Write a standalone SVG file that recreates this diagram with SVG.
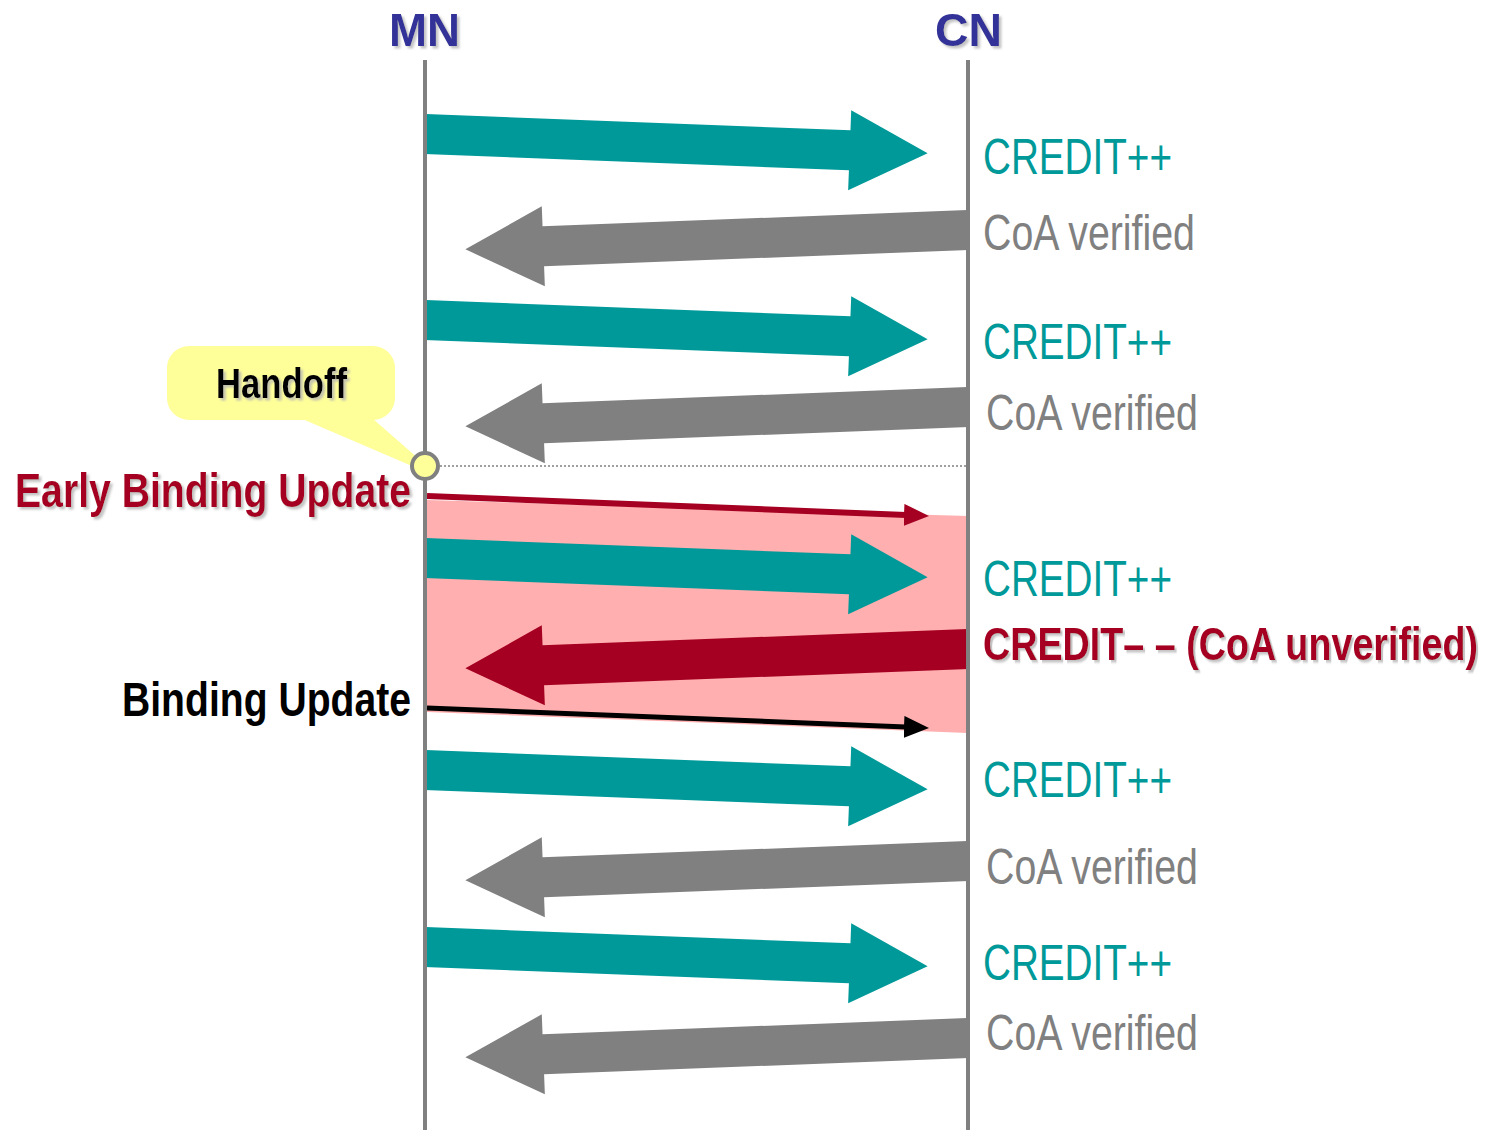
<svg xmlns="http://www.w3.org/2000/svg" width="1495" height="1130" viewBox="0 0 1495 1130">
<style>
.life{stroke:#808080;stroke-width:4;fill:none}
.hdr{font-family:"Liberation Sans",Arial,sans-serif;font-weight:bold;font-size:47px;fill:#333399}
.cr{font-family:"Liberation Sans",Arial,sans-serif;font-size:50px;fill:#009999}
.coa{font-family:"Liberation Sans",Arial,sans-serif;font-size:50px;fill:#808080}
.bold{font-family:"Liberation Sans",Arial,sans-serif;font-weight:bold;font-size:48px}
.teal{fill:#009999}
.grey{fill:#808080}
.red{fill:#A50021}
</style>
<defs>
<polygon id="fat" points="0,-20 425,-20 425,-40 503,0 425,40 425,20 0,20"/>
<filter id="sh" x="-5%" y="-20%" width="110%" height="150%">
<feDropShadow dx="2.5" dy="2.5" stdDeviation="0.8" flood-color="#b4b4b4" flood-opacity="0.8"/>
</filter>
<marker id="hr" viewBox="0 0 25 22" refX="2" refY="11" markerWidth="25" markerHeight="22" markerUnits="userSpaceOnUse" orient="auto">
<path d="M0,0 L25,11 L0,22 z" fill="#A50021"/>
</marker>
<marker id="hb" viewBox="0 0 25 22" refX="2" refY="11" markerWidth="25" markerHeight="22" markerUnits="userSpaceOnUse" orient="auto">
<path d="M0,0 L25,11 L0,22 z" fill="#000000"/>
</marker>
</defs>
<rect width="1495" height="1130" fill="#ffffff"/>
<g id="unverified-zone">
<polygon points="427,500 968,516 968,733 427,712" fill="#FFAFAF"/>
</g>
<g id="connectors">
<use href="#fat" class="teal" transform="translate(425,134) rotate(2.2)"/>
<use href="#fat" class="grey" transform="translate(968,230) rotate(177.8)"/>
<use href="#fat" class="teal" transform="translate(425,320) rotate(2.2)"/>
<use href="#fat" class="grey" transform="translate(968,407) rotate(177.8)"/>
<line x1="427" y1="496" x2="906" y2="515" stroke="#A50021" stroke-width="6" marker-end="url(#hr)"/>
<use href="#fat" class="teal" transform="translate(425,558) rotate(2.2)"/>
<use href="#fat" class="red" transform="translate(968,649) rotate(177.8)"/>
<line x1="427" y1="708" x2="906" y2="727" stroke="#000000" stroke-width="5" marker-end="url(#hb)"/>
<use href="#fat" class="teal" transform="translate(425,770) rotate(2.2)"/>
<use href="#fat" class="grey" transform="translate(968,861) rotate(177.8)"/>
<use href="#fat" class="teal" transform="translate(425,947) rotate(2.2)"/>
<use href="#fat" class="grey" transform="translate(968,1038) rotate(177.8)"/>
<line x1="440" y1="466" x2="966" y2="466" stroke="#808080" stroke-width="1.5" stroke-dasharray="2,2"/>
</g>
<g id="MN">
<line class="life" x1="425" y1="60" x2="425" y2="1130"/>
<text class="hdr" x="389" y="46" textLength="71" lengthAdjust="spacingAndGlyphs" filter="url(#sh)">MN</text>
</g>
<g id="CN">
<line class="life" x1="968" y1="60" x2="968" y2="1130"/>
<text class="hdr" x="935" y="46" textLength="67" lengthAdjust="spacingAndGlyphs" filter="url(#sh)">CN</text>
</g>
<g id="handoff">
<polygon points="300,418 372,418 420,460 412,466" fill="#FFFF99"/>
<rect x="167" y="346" width="228" height="74" rx="22" ry="22" fill="#FFFF99"/>
<text class="bold" x="216" y="398" fill="#000000" textLength="131" lengthAdjust="spacingAndGlyphs" filter="url(#sh)" style="font-size:42px">Handoff</text>
<circle cx="425" cy="466" r="13" fill="#FFFF99" stroke="#808080" stroke-width="4"/>
</g>
<g id="labels-left">
<text class="bold" x="15" y="507" fill="#A50021" textLength="396" lengthAdjust="spacingAndGlyphs" filter="url(#sh)">Early Binding Update</text>
<text class="bold" x="122" y="716" fill="#000000" textLength="289" lengthAdjust="spacingAndGlyphs">Binding Update</text>
</g>
<g id="labels-right">
<text class="cr" x="983" y="174" textLength="189" lengthAdjust="spacingAndGlyphs">CREDIT++</text>
<text class="coa" x="983" y="250" textLength="212" lengthAdjust="spacingAndGlyphs">CoA verified</text>
<text class="cr" x="983" y="359" textLength="189" lengthAdjust="spacingAndGlyphs">CREDIT++</text>
<text class="coa" x="986" y="430" textLength="212" lengthAdjust="spacingAndGlyphs">CoA verified</text>
<text class="cr" x="983" y="596" textLength="189" lengthAdjust="spacingAndGlyphs">CREDIT++</text>
<text class="bold" x="0" y="0" fill="#A50021" filter="url(#sh)" style="font-size:46px" transform="translate(983,660) scale(0.82,1)">CREDIT– – (CoA unverified)</text>
<text class="cr" x="983" y="797" textLength="189" lengthAdjust="spacingAndGlyphs">CREDIT++</text>
<text class="coa" x="986" y="884" textLength="212" lengthAdjust="spacingAndGlyphs">CoA verified</text>
<text class="cr" x="983" y="980" textLength="189" lengthAdjust="spacingAndGlyphs">CREDIT++</text>
<text class="coa" x="986" y="1050" textLength="212" lengthAdjust="spacingAndGlyphs">CoA verified</text>
</g>
</svg>
